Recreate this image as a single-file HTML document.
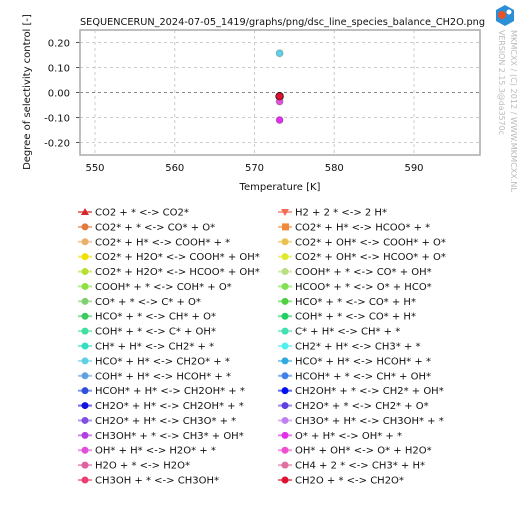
<!DOCTYPE html>
<html><head><meta charset="utf-8"><style>
body{margin:0;background:#fff;font-family:"DejaVu Sans","Liberation Sans",sans-serif;}
svg text{font-family:"DejaVu Sans","Liberation Sans",sans-serif;}
</style></head><body>
<svg id="c" width="520" height="505" xmlns="http://www.w3.org/2000/svg">
<rect width="520" height="505" fill="#fff"/>
<text x="80" y="25" font-size="10" textLength="405" lengthAdjust="spacingAndGlyphs" fill="#111">SEQUENCERUN_2024-07-05_1419/graphs/png/dsc_line_species_balance_CH2O.png</text>
<g id="plot"></g>
<g id="legend"></g>
<text transform="translate(511,30) rotate(90)" font-size="8" textLength="162" lengthAdjust="spacingAndGlyphs" fill="#bbb">MKMCXX / (C) 2012 / WWW.MKMCXX.NL</text>
<text transform="translate(499,30) rotate(90)" font-size="8" textLength="105" lengthAdjust="spacingAndGlyphs" fill="#bbb">VERSION 2.15.3@da3570c</text>
<g><polygon points="505,5 514,10 514,21 505,26 496,21 496,10" fill="#2a8fd6"/><circle cx="502" cy="15" r="4" fill="#e8532a"/><circle cx="509" cy="12" r="2.5" fill="#fff"/></g>
</svg>
<script>
const xTicks=[550,560,570,580,590];
const yTicks=[0.2,0.1,0,-0.1,-0.2];
const yTickLabels=["0.20","0.10","0.00","-0.10","-0.20"];
const temperature=573.15;
const reactions=["CO2 + * <-> CO2*","H2 + 2 * <-> 2 H*","CO2* + * <-> CO* + O*","CO2* + H* <-> HCOO* + *","CO2* + H* <-> COOH* + *","CO2* + OH* <-> COOH* + O*","CO2* + H2O* <-> COOH* + OH*","CO2* + OH* <-> HCOO* + O*","CO2* + H2O* <-> HCOO* + OH*","COOH* + * <-> CO* + OH*","COOH* + * <-> COH* + O*","HCOO* + * <-> O* + HCO*","CO* + * <-> C* + O*","HCO* + * <-> CO* + H*","HCO* + * <-> CH* + O*","COH* + * <-> CO* + H*","COH* + * <-> C* + OH*","C* + H* <-> CH* + *","CH* + H* <-> CH2* + *","CH2* + H* <-> CH3* + *","HCO* + H* <-> CH2O* + *","HCO* + H* <-> HCOH* + *","COH* + H* <-> HCOH* + *","HCOH* + * <-> CH* + OH*","HCOH* + H* <-> CH2OH* + *","CH2OH* + * <-> CH2* + OH*","CH2O* + H* <-> CH2OH* + *","CH2O* + * <-> CH2* + O*","CH2O* + H* <-> CH3O* + *","CH3O* + H* <-> CH3OH* + *","CH3OH* + * <-> CH3* + OH*","O* + H* <-> OH* + *","OH* + H* <-> H2O* + *","OH* + OH* <-> O* + H2O*","H2O + * <-> H2O*","CH4 + 2 * <-> CH3* + H*","CH3OH + * <-> CH3OH*","CH2O + * <-> CH2O*"];
const dscValues=[-0.015,-0.015,-0.015,-0.015,-0.015,-0.015,-0.015,-0.015,-0.015,-0.015,-0.015,-0.015,-0.015,-0.015,-0.015,-0.015,-0.015,-0.015,-0.015,-0.015,0.157,-0.015,-0.015,-0.015,-0.015,-0.015,-0.015,-0.015,-0.015,-0.015,-0.015,-0.11,-0.036,-0.015,-0.015,-0.015,-0.015,-0.015];
const colors=["#d62728","#f26b52","#e07a3f","#f08a3a","#e8b06a","#ecc050","#f0e000","#e0e830","#b8e030","#b8e080","#8ce040","#80e050","#80d070","#50d040","#40c860","#20d060","#40e0a0","#40e0b0","#30e0c0","#50f0f0","#60d0e8","#30a8e0","#60a0e0","#4080e8","#3050d8","#0010f0","#1010e0","#6040e0","#8050e0","#c080f0","#b040e0","#e030e8","#e050d8","#f050d0","#e060a0","#e070a0","#e84070","#e01030"];
const NS="http://www.w3.org/2000/svg";
const L=80,R=480,T=30,B=155;
const xs=v=>95+(v-550)*(414-95)/40;
const ys=v=>92.5-v*250;
function mk(tag,attrs,parent){const e=document.createElementNS(NS,tag);for(const k in attrs)e.setAttribute(k,attrs[k]);parent.appendChild(e);return e;}
const p=document.getElementById('plot');
xTicks.forEach(t=>{const x=xs(t);
 const g=mk('line',{x1:x,x2:x,y1:T,y2:B,stroke:'#ccc','stroke-dasharray':'3,3'},p);
 
 
 const tx=mk('text',{x:x,y:171,'font-size':10,'text-anchor':'middle',fill:'#111'},p);tx.textContent=t;
 
 });
yTicks.forEach((t,i)=>{const y=ys(t);
 const g=mk('line',{x1:L,x2:R,y1:y,y2:y,stroke:t===0?'#888':'#ccc','stroke-dasharray':'3,3'},p);
 
 
 mk('line',{x1:L-4,x2:L,y1:y,y2:y,stroke:'#555'},p);
 const tx=mk('text',{x:L-10,y:y+4,'font-size':10,'text-anchor':'end',fill:'#111'},p);tx.textContent=yTickLabels[i];
 
 });
const fr=mk('rect',{x:L,y:T,width:R-L,height:B-T,fill:'none',stroke:'#aaa','stroke-width':1.5},p);


const xl=mk('text',{x:280,y:190,'font-size':10,'text-anchor':'middle',fill:'#111'},p);xl.textContent='Temperature [K]';


const yl=mk('text',{transform:'translate(30,92) rotate(-90)','font-size':10,'text-anchor':'middle',fill:'#111'},p);yl.textContent='Degree of selectivity control [-]';


dscValues.forEach((v,i)=>{const c=mk('circle',{cx:xs(temperature),cy:ys(v),r:3.5,fill:colors[i],stroke:'#0003'},p);
 
 });
const lg=document.getElementById('legend');
reactions.forEach((r,i)=>{const col=i%2,row=Math.floor(i/2);const x0=col?278:78,y=212+row*14.89;
 const g=mk('g',{},lg);
 
 
 mk('line',{x1:x0,x2:x0+14,y1:y,y2:y,stroke:colors[i],'stroke-width':2,opacity:0.6},g);
 if(i===0)mk('polygon',{points:`${x0+7},${y-4} ${x0+11},${y+3} ${x0+3},${y+3}`,fill:colors[i]},g);
 else if(i===1)mk('polygon',{points:`${x0+7},${y+4} ${x0+11},${y-3} ${x0+3},${y-3}`,fill:colors[i]},g);
 else if(i===3)mk('rect',{x:x0+4,y:y-3.5,width:7,height:7,fill:colors[i]},g);
 else mk('circle',{cx:x0+7,cy:y,r:3.5,fill:colors[i]},g);
 const t=mk('text',{x:x0+17,y:y+3.5,'font-size':10,fill:'#111'},g);t.textContent=r;});
</script>
</body></html>
